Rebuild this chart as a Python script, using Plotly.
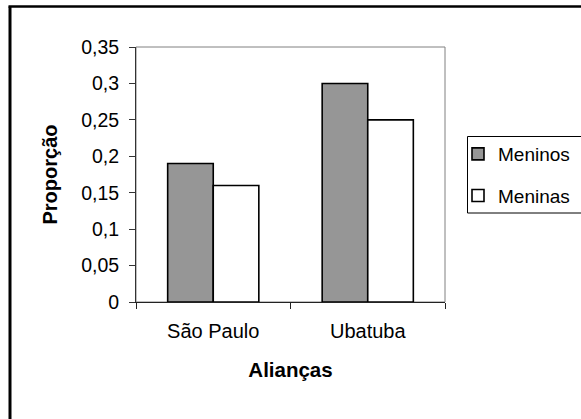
import plotly.graph_objects as go

# Data
categories = ["São Paulo", "Ubatuba"]
meninos = [0.19, 0.30]
meninas = [0.16, 0.25]
series_names = ["Meninos", "Meninas"]
y_ticks = [0, 0.05, 0.1, 0.15, 0.2, 0.25, 0.3, 0.35]

W, H = 581, 419
L, R, T, B = 136, 136, 47, 117
PW, PH = W - L - R, H - T - B


def px_x(px):
    return (px - L) / PW


def px_y(py):
    return (H - B - py) / PH


FONT = "Liberation Sans, Arial, sans-serif"

fig = go.Figure()
fig.add_trace(go.Bar(x=categories, y=meninos, name=series_names[0], legendgroup="a",
                     marker=dict(color="#969696", line=dict(color="black", width=1.6))))
fig.add_trace(go.Bar(x=categories, y=meninas, name=series_names[1], legendgroup="b",
                     marker=dict(color="white", line=dict(color="black", width=1.6))))

fig.update_layout(
    width=W, height=H,
    margin=dict(l=L, r=R, t=T, b=B, autoexpand=False),
    paper_bgcolor="white", plot_bgcolor="white",
    font=dict(family=FONT, size=19, color="black"),
    separators=",.",
    barmode="group", bargap=0.41, bargroupgap=0,
    showlegend=True,
    legend=dict(x=px_x(458), y=px_y(135), xanchor="left", yanchor="top",
                borderwidth=0, bgcolor="rgba(0,0,0,0)",
                font=dict(size=19), itemwidth=30, tracegroupgap=14),
    xaxis=dict(showline=True, linecolor="#222", linewidth=1,
               ticks="outside", ticklen=6, tickcolor="#222", tickson="boundaries",
               ticklabelstandoff=11, tickfont=dict(size=20),
               showgrid=False, zeroline=False,
               title=dict(text="<b>Alianças</b>", standoff=21, font=dict(size=20.5))),
    yaxis=dict(range=[0, 0.35], tickvals=y_ticks, showline=True, linecolor="#333",
               linewidth=1, ticks="outside", ticklen=6, tickcolor="#333",
               ticklabelstandoff=6, tickfont=dict(size=19.5),
               showgrid=False, zeroline=False,
               title=dict(text="<b>Proporção</b>", standoff=18, font=dict(size=20))),
    shapes=[
        # plot frame
        dict(type="rect", xref="paper", yref="paper", x0=0, y0=0, x1=1, y1=1,
             line=dict(color="#808080", width=1), layer="below"),
        # legend box
        dict(type="rect", xref="paper", yref="paper",
             x0=px_x(467.5), y0=px_y(136.5), x1=px_x(600), y1=px_y(213),
             line=dict(color="black", width=1), fillcolor="white", layer="below"),
        # outer chart border (left and top edges)
        dict(type="line", xref="paper", yref="paper",
             x0=px_x(10), y0=px_y(6.5), x1=px_x(10), y1=px_y(430),
             line=dict(color="black", width=3)),
        dict(type="line", xref="paper", yref="paper",
             x0=px_x(8.5), y0=px_y(6.5), x1=px_x(600), y1=px_y(6.5),
             line=dict(color="black", width=2.5)),
    ],
)

fig.write_html("out.html")
